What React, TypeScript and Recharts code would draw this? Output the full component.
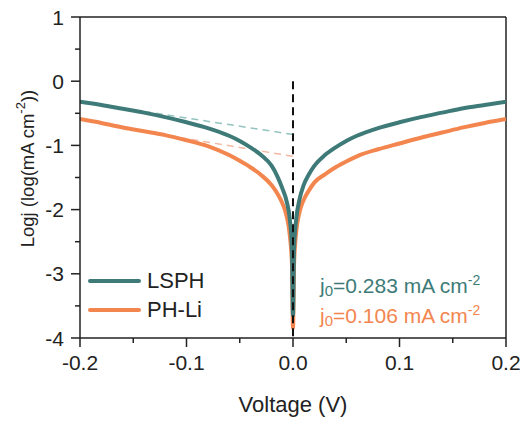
import { LineChart, Line, XAxis, YAxis, ReferenceLine, Label } from "recharts";

const voltage = [
  -0.2, -0.18, -0.16, -0.14, -0.12, -0.1, -0.08, -0.06, -0.05, -0.04, -0.03, -0.02,
  -0.015, -0.01, -0.006, -0.003, -0.001, 0, 0.001, 0.003, 0.006, 0.01, 0.015, 0.02,
  0.03, 0.04, 0.05, 0.06, 0.08, 0.1, 0.12, 0.14, 0.16, 0.18, 0.2,
];

const lsphLogj = [
  -0.32, -0.37, -0.43, -0.49, -0.56, -0.64, -0.73, -0.85, -0.93, -1.03, -1.15, -1.32,
  -1.47, -1.67, -1.87, -2.15, -2.6, -3.65, -2.6, -2.15, -1.85, -1.62, -1.45, -1.32,
  -1.15, -1.03, -0.93, -0.85, -0.73, -0.64, -0.56, -0.49, -0.42, -0.37, -0.32,
];

const phliLogj = [
  -0.59, -0.65, -0.72, -0.78, -0.84, -0.92, -1.01, -1.15, -1.24, -1.34, -1.46, -1.62,
  -1.74, -1.9, -2.1, -2.4, -2.85, -3.85, -2.85, -2.35, -2.05, -1.85, -1.7, -1.58,
  -1.45, -1.34, -1.25, -1.17, -1.06, -0.97, -0.88, -0.8, -0.72, -0.65, -0.59,
];

// tafel extrapolation (dashed) end points
const tangentV = [-0.14, 0];
const lsphTangent = [-0.47, -0.83];
const phliTangent = [-0.785, -1.17];

const xTicks = [-0.2, -0.15, -0.1, -0.05, 0, 0.05, 0.1, 0.15, 0.2];
const yTicks = [-4, -3.5, -3, -2.5, -2, -1.5, -1, -0.5, 0, 0.5, 1];

const TEAL = "#3e7b78";
const ORANGE = "#f3864f";
const AXIS = "#222";
const FONT = "'Liberation Sans', Arial, sans-serif";

const data = voltage.map((v, i) => ({ v, lsph: lsphLogj[i], phli: phliLogj[i] }));
const lsphDash = tangentV.map((v, i) => ({ v, y: lsphTangent[i] }));
const phliDash = tangentV.map((v, i) => ({ v, y: phliTangent[i] }));

const isMajor = (v: number, step: number) => Math.abs(v / step - Math.round(v / step)) < 1e-6;

function XTick(props: any) {
  const { x, y, payload } = props;
  const major = isMajor(payload.value, 0.1);
  return (
    <g>
      <line x1={x} x2={x} y1={y} y2={y + (major ? 9 : 5)} stroke={AXIS} strokeWidth={1.5} />
      {major && (
        <text x={x} y={y + 32} textAnchor="middle" fontSize={21} fill={AXIS}>
          {payload.value.toFixed(1)}
        </text>
      )}
    </g>
  );
}

function YTick(props: any) {
  const { x, y, payload } = props;
  const major = isMajor(payload.value, 1);
  return (
    <g>
      <line x1={x - (major ? 9 : 5)} x2={x} y1={y} y2={y} stroke={AXIS} strokeWidth={1.5} />
      {major && (
        <text x={x - 16} y={y} dy="0.36em" textAnchor="end" fontSize={21} fill={AXIS}>
          {payload.value}
        </text>
      )}
    </g>
  );
}

function XTitle(props: any) {
  const { x, y, width } = props.viewBox;
  return (
    <text x={x + width / 2} y={y + 74} textAnchor="middle" fontSize={22} fill={AXIS}>
      Voltage (V)
    </text>
  );
}

function YTitle(props: any) {
  const { y, height } = props.viewBox;
  const cx = 27;
  const cy = y + height / 2 - 9;
  return (
    <text
      x={cx}
      y={cy}
      textAnchor="middle"
      dominantBaseline="central"
      fontSize={18.5}
      fill={AXIS}
      transform={`rotate(-90, ${cx}, ${cy})`}
    >
      Logj (log(mA cm
      <tspan dy={-7} fontSize={13}>-2</tspan>
      <tspan dy={7}>))</tspan>
    </text>
  );
}

export default function App() {
  return (
    <div style={{ position: "absolute", left: 0, top: 0, width: 525, height: 423, fontFamily: FONT, background: "#fff" }}>
      <LineChart
        width={525}
        height={423}
        data={data}
        margin={{ top: 17, right: 19, left: 0, bottom: 0 }}
        style={{ fontFamily: FONT }}
      >
        <XAxis
          type="number"
          dataKey="v"
          domain={[-0.2, 0.2]}
          ticks={xTicks}
          interval={0}
          allowDataOverflow
          tickLine={false}
          tickSize={0}
          tickMargin={0}
          tick={<XTick />}
          height={85}
          axisLine={{ stroke: AXIS, strokeWidth: 1.5 }}
        >
          <Label content={<XTitle />} />
        </XAxis>
        <YAxis
          type="number"
          domain={[-4, 1]}
          ticks={yTicks}
          interval={0}
          allowDataOverflow
          tickLine={false}
          tickSize={0}
          tickMargin={0}
          tick={<YTick />}
          width={80}
          axisLine={{ stroke: AXIS, strokeWidth: 1.5 }}
        >
          <Label content={<YTitle />} />
        </YAxis>
        <ReferenceLine y={1} stroke={AXIS} strokeWidth={1.5} />
        <ReferenceLine x={0.2} stroke={AXIS} strokeWidth={1.5} />
        <Line
          data={lsphDash}
          dataKey="y"
          stroke="#93c4bf"
          strokeWidth={1.5}
          strokeDasharray="7 5"
          dot={false}
          isAnimationActive={false}
        />
        <Line
          data={phliDash}
          dataKey="y"
          stroke="#f2b8a4"
          strokeWidth={1.5}
          strokeDasharray="7 5"
          dot={false}
          isAnimationActive={false}
        />
        <Line type="monotone" dataKey="phli" stroke={ORANGE} strokeWidth={4} dot={false} isAnimationActive={false} />
        <Line type="monotone" dataKey="lsph" stroke={TEAL} strokeWidth={4} dot={false} isAnimationActive={false} />
        <ReferenceLine
          segment={[
            { x: 0, y: 0 },
            { x: 0, y: -4 },
          ]}
          stroke="#111"
          strokeWidth={2}
          strokeDasharray="8 5"
        />
      </LineChart>

      <div style={{ position: "absolute", left: 88, top: 279, width: 53, height: 4, borderRadius: 2, background: TEAL }} />
      <div style={{ position: "absolute", left: 147, top: 270, fontSize: 22, lineHeight: "22px", color: AXIS }}>LSPH</div>
      <div style={{ position: "absolute", left: 88, top: 308, width: 53, height: 4, borderRadius: 2, background: ORANGE }} />
      <div style={{ position: "absolute", left: 147, top: 299, fontSize: 22, lineHeight: "22px", color: AXIS }}>PH-Li</div>

      <div style={{ position: "absolute", left: 320, top: 270, fontSize: 21, lineHeight: "21px", color: TEAL, whiteSpace: "nowrap" }}>
        j<sub style={{ fontSize: 15, verticalAlign: -3 }}>0</sub>=0.283 mA cm
        <sup style={{ fontSize: 14, verticalAlign: 8 }}>-2</sup>
      </div>
      <div style={{ position: "absolute", left: 320, top: 300, fontSize: 21, lineHeight: "21px", color: ORANGE, whiteSpace: "nowrap" }}>
        j<sub style={{ fontSize: 15, verticalAlign: -3 }}>0</sub>=0.106 mA cm
        <sup style={{ fontSize: 14, verticalAlign: 8 }}>-2</sup>
      </div>
    </div>
  );
}
